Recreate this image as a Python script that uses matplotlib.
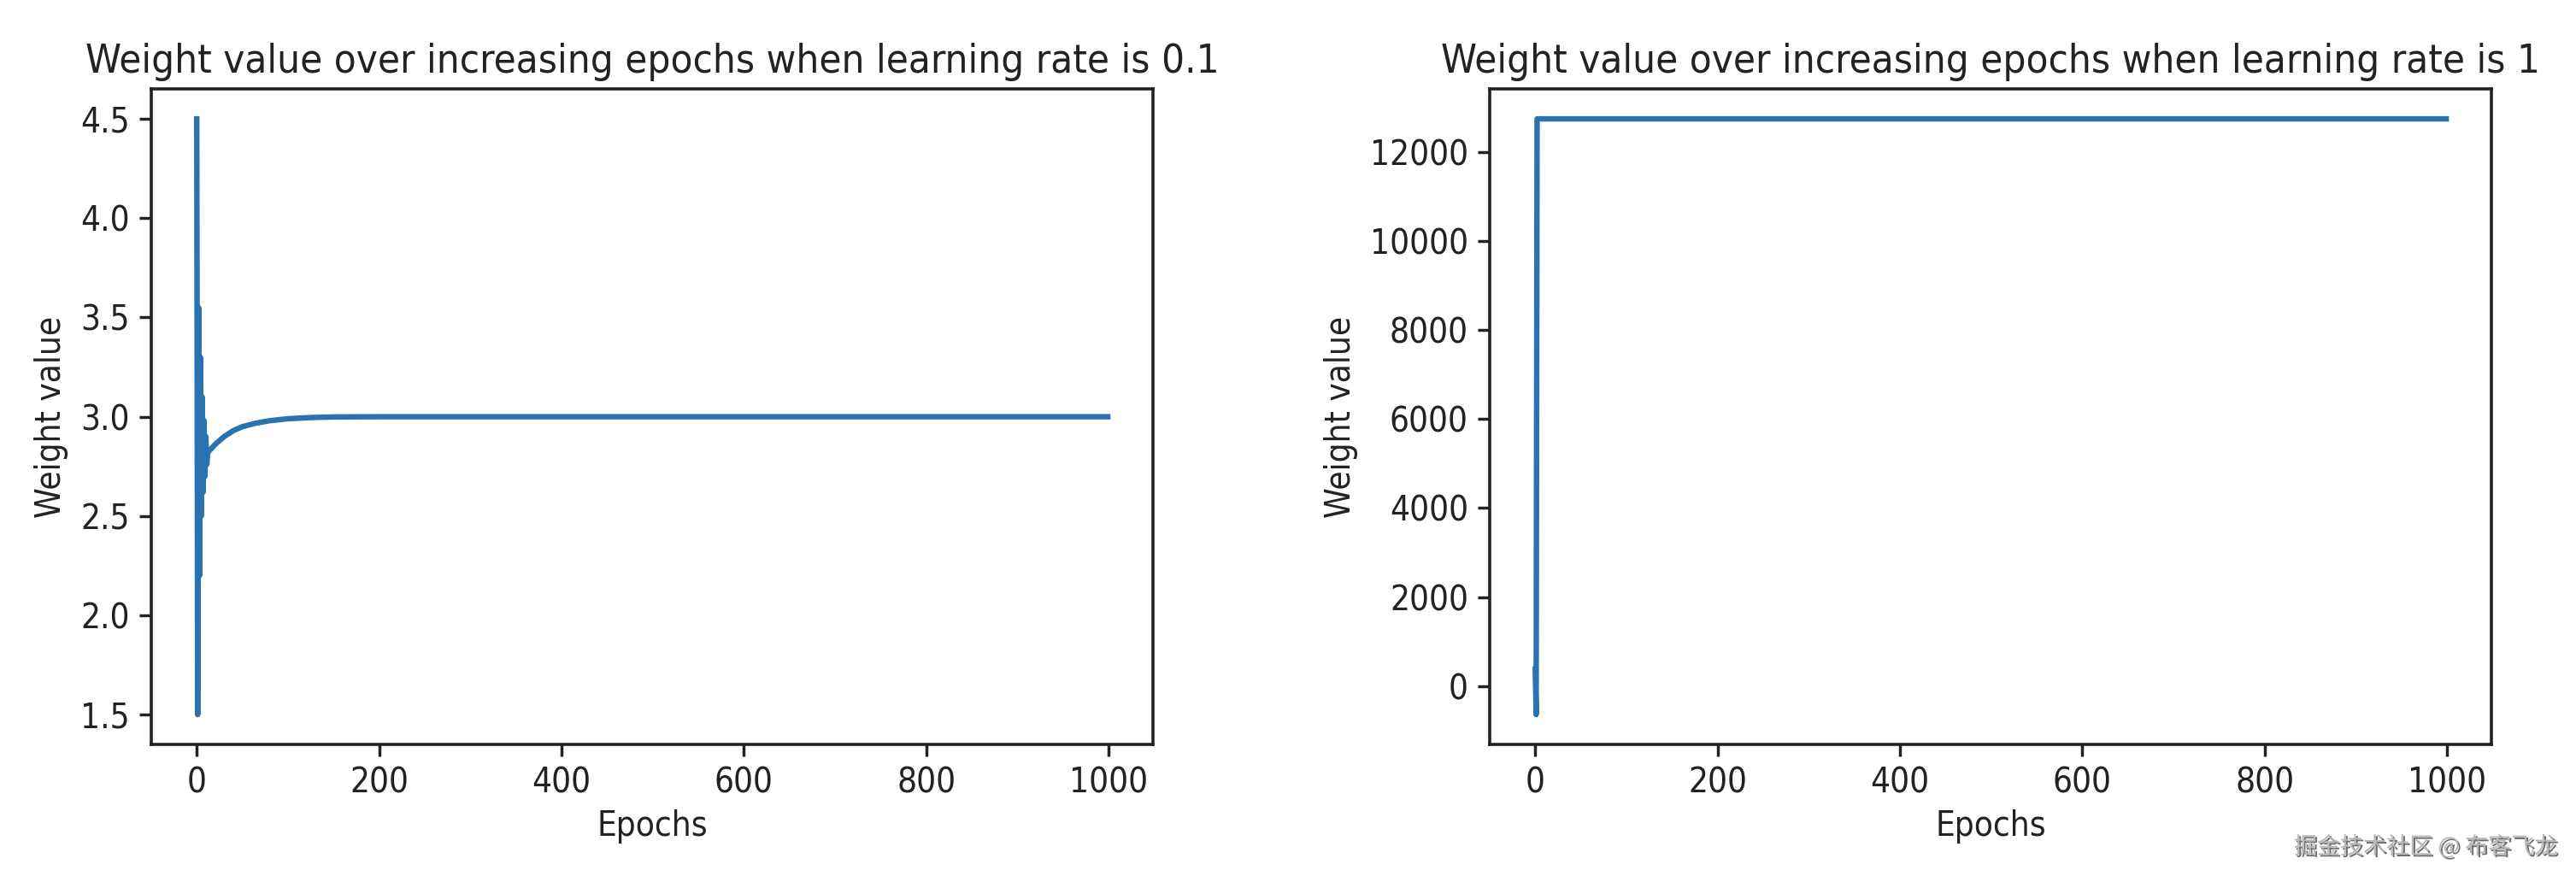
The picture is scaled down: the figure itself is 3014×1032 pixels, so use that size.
import matplotlib
matplotlib.use("Agg")
import matplotlib.pyplot as plt
import matplotlib.patheffects as pe

# weights (lr = 0.1)
epochs_a = [0, 1, 2, 3, 4, 5, 6, 7, 8, 9, 10, 11, 12,
            15, 20, 30, 40, 50, 65, 80, 100, 125, 150, 200, 999]
weight_a = [4.5, 1.5, 3.55, 2.2, 3.3, 2.5, 3.1, 2.62, 2.98, 2.7, 2.9, 2.76, 2.82,
            2.835, 2.86, 2.90, 2.93, 2.95, 2.968, 2.98, 2.99, 2.996, 2.999, 3.0, 3.0]

# weights (lr = 1)
epochs_b = [0, 1, 2, 999]
weight_b = [380, -640, 12740, 12740]

titles = ["Weight value over increasing epochs when learning rate is 0.1",
          "Weight value over increasing epochs when learning rate is 1"]
xticks = [0, 200, 400, 600, 800, 1000]
yticks_b = [0, 2000, 4000, 6000, 8000, 10000, 12000]

plt.rcParams['font.family'] = ['DejaVu Sans']
plt.rcParams['font.stretch'] = 'condensed'
plt.rcParams['text.color'] = '#222222'

fig = plt.figure(figsize=(30.14, 10.32), dpi=100)
ax1 = fig.add_axes([0.0587, 0.156, 0.389, 0.743])
ax2 = fig.add_axes([0.5783, 0.156, 0.389, 0.743])

for ax, x, y, t in [(ax1, epochs_a, weight_a, titles[0]), (ax2, epochs_b, weight_b, titles[1])]:
    ax.plot(x, y, color='#2a72b0', linewidth=4.6)
    ax.set_title(t, fontsize=34, pad=14, color='#222222')
    ax.set_xlabel("Epochs", fontsize=29, labelpad=8, color='#222222')
    ax.set_ylabel("Weight value", fontsize=29, labelpad=10, color='#222222')
    ax.tick_params(labelsize=29, length=10, width=2.5, pad=8, colors='#222222')
    for s in ax.spines.values():
        s.set_linewidth(2.6)
        s.set_color('#222222')
    ax.set_xticks(xticks)

ax2.set_yticks(yticks_b)

# watermark
fig.text(0.993, 0.04, "掘金技术社区 @ 布客飞龙", ha='right', va='center', fontsize=19.5,
         color='#b8b8b8', family=['Noto Sans CJK SC', 'DejaVu Sans'],
         path_effects=[pe.withSimplePatchShadow(offset=(1.5, -1.5), shadow_rgbFace='#303030', alpha=0.7)])

fig.savefig("out.png", dpi=100)
